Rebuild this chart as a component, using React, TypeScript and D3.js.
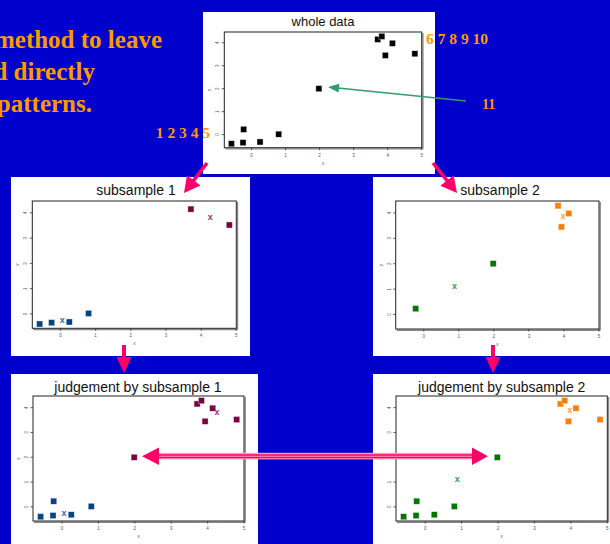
import React from 'react';
import * as d3 from 'd3';

// ---------- data ----------
const pointIds = ['1', '2', '3', '4', '5', '6', '7', '8', '9', '10', '11'];
const pointX = [-0.59, -0.25, -0.23, 0.25, 0.8, 1.98, 3.71, 3.83, 4.14, 3.93, 4.8];
const pointY = [-0.4, -0.35, 0.23, -0.32, 0.02, 2.0, 4.15, 4.28, 3.98, 3.45, 3.52];

const sub1Idx = [0, 1, 3, 4, 6, 10];
const sub1Cluster = [0, 0, 0, 0, 1, 1];
const sub1CentX = [0.05, 4.26];
const sub1CentY = [-0.26, 3.84];

const sub2Idx = [2, 5, 7, 8, 9];
const sub2Cluster = [0, 0, 1, 1, 1];
const sub2CentX = [0.88, 3.97];
const sub2CentY = [1.12, 3.89];

const judge1Cluster = [0, 0, 0, 0, 0, 1, 1, 1, 1, 1, 1];
const judge2Cluster = [0, 0, 0, 0, 0, 0, 1, 1, 1, 1, 1];

const xTicks = [0, 1, 2, 3, 4, 5];
const yTicks = [0, 1, 2, 3, 4];
const xDomain = [-0.8, 5];
const yDomain = [-0.57, 4.47];

const titles = ['whole data', 'subsample 1', 'subsample 2', 'judgement by subsample 1', 'judgement by subsample 2'];
const textLines = ['method to leave', 'and directly', 'patterns.'];
const groupA = '1 2 3 4 5';
const groupB = '6 7 8 9 10';
const outlierLabel = '11';

// ---------- styles ----------
const BG = '#0000CC';
const ORANGE = '#FF9900';
const PINK = '#FF0066';
const sub1Colors = ['#00448A', '#7D003F'];
const sub1XColors = ['#3A66AA', '#A03070'];
const sub2Colors = ['#007800', '#FF8000'];
const sub2XColors = ['#3C9C3C', '#FFA040'];

type Box = { l: number; r: number; t: number; b: number };
type Pt = { x: number; y: number; c: string };

function Plot({ panel, box, title, tx, ty, tsize, pts, cents, sq }: {
  panel: Box; box: Box; title: string; tx: number; ty: number; tsize: number;
  pts: Pt[]; cents: Pt[]; sq: number;
}) {
  const x = d3.scaleLinear().domain(xDomain).range([box.l, box.r]);
  const y = d3.scaleLinear().domain(yDomain).range([box.b, box.t]);
  const h = box.b - box.t;
  const fs = 4.5;
  return (
    <g>
      <rect x={panel.l} y={panel.t} width={panel.r - panel.l} height={panel.b - panel.t} fill="#fff" />
      <text x={tx} y={ty} textAnchor="middle" fontFamily="Liberation Sans, Arial, sans-serif" fontSize={tsize} fill="#111">{title}</text>
      {/* box with shadow */}
      <line x1={box.r + 1.2} y1={box.t + 1} x2={box.r + 1.2} y2={box.b + 1.2} stroke="#888" strokeWidth={1.4} />
      <line x1={box.l + 1} y1={box.b + 1.2} x2={box.r + 1.2} y2={box.b + 1.2} stroke="#888" strokeWidth={1.4} />
      <rect x={box.l} y={box.t} width={box.r - box.l} height={h} fill="none" stroke="#222" strokeWidth={1} />
      {xTicks.map((t) => (
        <g key={'xt' + t}>
          <line x1={x(t)} x2={x(t)} y1={box.b} y2={box.b + 2.5} stroke="#333" strokeWidth={0.8} />
          <text x={x(t)} y={box.b + 9} textAnchor="middle" fontSize={fs} fontFamily="Liberation Sans, Arial, sans-serif" fill="#555">{t}</text>
        </g>
      ))}
      {yTicks.map((t) => (
        <g key={'yt' + t}>
          <line x1={box.l - 2.5} x2={box.l} y1={y(t)} y2={y(t)} stroke="#333" strokeWidth={0.8} />
          <text transform={`translate(${box.l - 5},${y(t)}) rotate(-90)`} textAnchor="middle" fontSize={fs} fontFamily="Liberation Sans, Arial, sans-serif" fill="#555">{t}</text>
        </g>
      ))}
      <text x={(box.l + box.r) / 2} y={box.b + 17} textAnchor="middle" fontSize={fs} fontFamily="Liberation Sans, Arial, sans-serif" fill="#555">x</text>
      <text transform={`translate(${box.l - 13},${(box.t + box.b) / 2}) rotate(-90)`} textAnchor="middle" fontSize={fs} fontFamily="Liberation Sans, Arial, sans-serif" fill="#555">y</text>
      {pts.map((p, i) => (
        <rect key={'p' + i} x={x(p.x) - sq / 2} y={y(p.y) - sq / 2} width={sq} height={sq} fill={p.c} stroke="#ddd" strokeWidth={0.4} />
      ))}
      {cents.map((p, i) => (
        <text key={'c' + i} x={x(p.x)} y={y(p.y) + 3} textAnchor="middle" fontSize={9} fontWeight="bold" fontFamily="Liberation Sans, Arial, sans-serif" fill={p.c}>x</text>
      ))}
    </g>
  );
}

function arrow(x1: number, y1: number, x2: number, y2: number, headLen: number, headW: number, stemW: number, color: string, key: string) {
  const dx = x2 - x1, dy = y2 - y1;
  const L = Math.hypot(dx, dy);
  const ux = dx / L, uy = dy / L;
  const bx = x2 - ux * headLen, by = y2 - uy * headLen;
  const px = -uy, py = ux;
  const pts = [[x2, y2], [bx + px * headW / 2, by + py * headW / 2], [bx - px * headW / 2, by - py * headW / 2]];
  return (
    <g key={key}>
      <line x1={x1} y1={y1} x2={bx + ux} y2={by + uy} stroke={color} strokeWidth={stemW} />
      <polygon points={pts.map((p) => p.join(',')).join(' ')} fill={color} />
    </g>
  );
}

export default function App() {
  const whole: Pt[] = pointX.map((v, i) => ({ x: v, y: pointY[i], c: '#000' }));
  const s1: Pt[] = sub1Idx.map((k, i) => ({ x: pointX[k], y: pointY[k], c: sub1Colors[sub1Cluster[i]] }));
  const s1c: Pt[] = sub1CentX.map((v, i) => ({ x: v, y: sub1CentY[i], c: sub1XColors[i] }));
  const s2: Pt[] = sub2Idx.map((k, i) => ({ x: pointX[k], y: pointY[k], c: sub2Colors[sub2Cluster[i]] }));
  const s2c: Pt[] = sub2CentX.map((v, i) => ({ x: v, y: sub2CentY[i], c: sub2XColors[i] }));
  const j1: Pt[] = pointX.map((v, i) => ({ x: v, y: pointY[i], c: sub1Colors[judge1Cluster[i]] }));
  const j2: Pt[] = pointX.map((v, i) => ({ x: v, y: pointY[i], c: sub2Colors[judge2Cluster[i]] }));
  const serif = 'Liberation Serif, Times New Roman, serif';
  return (
    <div style={{ position: 'fixed', left: 0, top: 0 }}>
      <svg width={610} height={544} style={{ display: 'block' }}>
        <rect x={0} y={0} width={610} height={544} fill={BG} />
        {textLines.map((t, i) => (
          <text key={t} x={[162, 95, 92][i]} y={48 + i * 31.8} textAnchor="end" fontFamily={serif} fontWeight="bold" fontSize={25} fill={ORANGE}>{t}</text>
        ))}
        <Plot panel={{ l: 203, r: 435, t: 12, b: 174 }} box={{ l: 224.3, r: 421.7, t: 32, b: 147.7 }} title={titles[0]} tx={323} ty={26} tsize={13} pts={whole} cents={[]} sq={6} />
        <Plot panel={{ l: 11, r: 250, t: 177, b: 356 }} box={{ l: 32.3, r: 236.3, t: 201, b: 328.3 }} title={titles[1]} tx={136} ty={195} tsize={14} pts={s1} cents={s1c} sq={6} />
        <Plot panel={{ l: 373, r: 610, t: 177, b: 356 }} box={{ l: 395.7, r: 599, t: 201, b: 329 }} title={titles[2]} tx={500} ty={195} tsize={14} pts={s2} cents={s2c} sq={6} />
        <Plot panel={{ l: 11, r: 258, t: 374, b: 544 }} box={{ l: 33, r: 244, t: 396, b: 521 }} title={titles[3]} tx={138} ty={392} tsize={14} pts={j1} cents={s1c} sq={6} />
        <Plot panel={{ l: 373, r: 610, t: 374, b: 544 }} box={{ l: 396, r: 607.3, t: 396, b: 521 }} title={titles[4]} tx={501.7} ty={392} tsize={14} pts={j2} cents={s2c} sq={6} />
        {/* number labels */}
        <text x={210} y={138} textAnchor="end" fontFamily={serif} fontWeight="bold" fontSize={15.5} fill={ORANGE}>{groupA}</text>
        <text x={426} y={44} fontFamily={serif} fontWeight="bold" fontSize={15.5} fill={ORANGE}>{groupB}</text>
        <text x={482} y={109} fontFamily={serif} fontWeight="bold" fontSize={14} fill={ORANGE}>{outlierLabel}</text>
        {/* green arrow */}
        {arrow(466, 101, 328, 87, 11, 9, 1.4, '#2E9E6B', 'g')}
        {/* pink arrows */}
        {arrow(207, 163, 184, 193, 16, 17, 3.5, PINK, 'a1')}
        {arrow(433, 163, 457, 193, 16, 17, 3.5, PINK, 'a2')}
        {arrow(124, 345, 124, 373, 16, 15, 4, PINK, 'a3')}
        {arrow(493, 345, 493, 373, 16, 15, 4, PINK, 'a4')}
        {/* horizontal double arrow */}
        <rect x={158} y={452.8} width={315} height={6.6} fill="#FF9EC0" />
        <line x1={158} x2={473} y1={455} y2={455} stroke={PINK} strokeWidth={1.3} />
        <line x1={158} x2={473} y1={457.5} y2={457.5} stroke={PINK} strokeWidth={1.3} />
        <polygon points="142,456.2 159,447.5 159,465" fill={PINK} />
        <polygon points="488,456.2 472,447.5 472,465" fill={PINK} />
      </svg>
    </div>
  );
}
